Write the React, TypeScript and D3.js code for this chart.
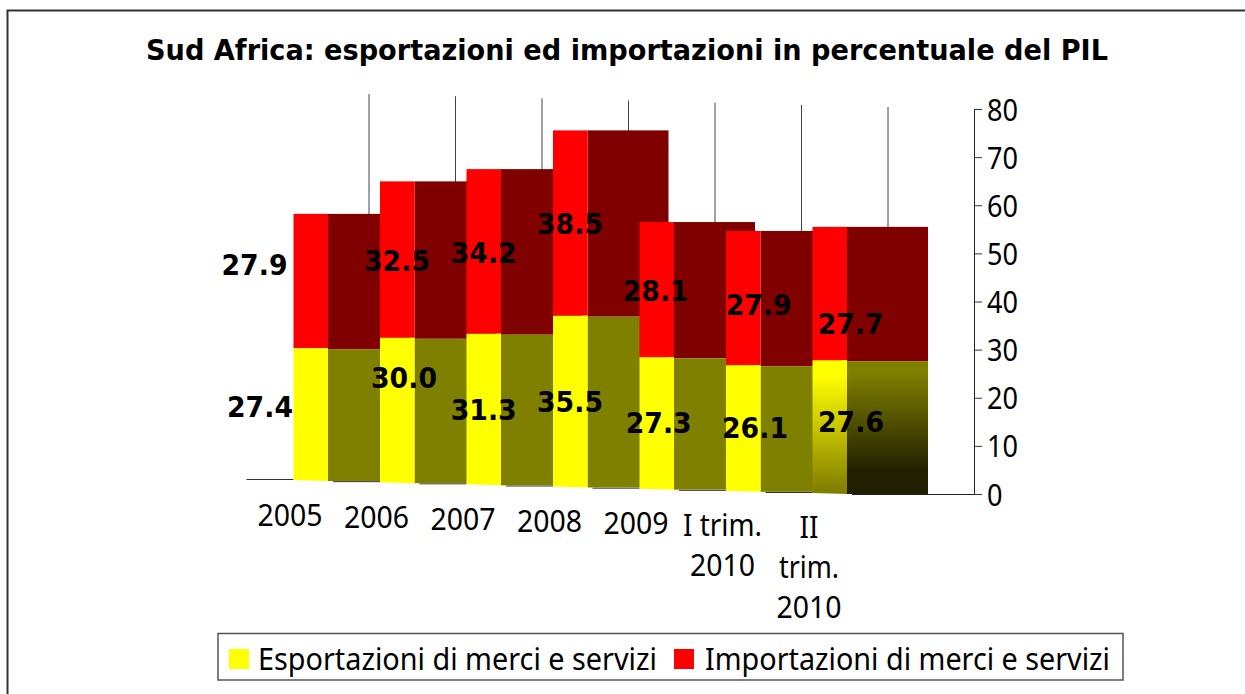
import React from "react";
import * as d3 from "d3";

const title = "Sud Africa: esportazioni ed importazioni in percentuale del PIL";
const categories = ["2005", "2006", "2007", "2008", "2009", "I trim.|2010", "II|trim.|2010"];
const esportazioni = [27.4, 30.0, 31.3, 35.5, 27.3, 26.1, 27.6];
const importazioni = [27.9, 32.5, 34.2, 38.5, 28.1, 27.9, 27.7];
const seriesNames = ["Esportazioni di merci e servizi", "Importazioni di merci e servizi"];
const axisTicks = [0, 10, 20, 30, 40, 50, 60, 70, 80];

// Hand-placed label anchors as in the reference (centre x, baseline y)
const expLabelPos = [[260, 417], [404, 388], [483.7, 420], [570, 412], [658.7, 433], [755, 438], [851, 432]];
const impLabelPos = [[254.5, 275], [397, 271], [483.7, 263], [570, 234], [655.7, 301], [758.7, 315], [850.7, 334]];

const W = 1245, H = 694;
const FRONT = 34.5, SIDE = 81;
const SANS = "'Noto Sans', sans-serif";
const BOLD = "'DejaVu Sans', sans-serif";

const x = d3.scaleBand<string>().domain(categories).range([293.5, 293.5 + 7 * 86.5]);
const base = d3.scaleLinear().domain([0, 6]).range([480, 493]);
const axisY = d3.scaleLinear().domain([0, 80]).range([494, 109]);
const h = (v: number) => axisY(0) - axisY(v);
const lineWidth = (s: string) => (s === "I trim." ? 79 : s === "trim." ? 60 : s === "II" ? 19 : 65);

export default function App() {
  return (
    <svg width={W} height={H} style={{ position: "absolute", left: 0, top: 0, display: "block", background: "#fff" }}>
      <defs>
        <linearGradient id="frontFade" gradientUnits="userSpaceOnUse" x1="0" x2="0" y1="375" y2="493">
          <stop offset="0" stopColor="#ffff00" />
          <stop offset="1" stopColor="#7f7c00" />
        </linearGradient>
        <linearGradient id="sideFade" gradientUnits="userSpaceOnUse" x1="0" x2="0" y1="372" y2="472">
          <stop offset="0" stopColor="#808000" />
          <stop offset="1" stopColor="#201f00" />
        </linearGradient>
      </defs>

      <path d={`M7.5 694V10.5H1245`} fill="none" stroke="#333" strokeWidth={2} />

      <text x={146} y={60} fontFamily={BOLD} fontWeight="bold" fontSize={28.5} textLength={962} lengthAdjust="spacingAndGlyphs">{title}</text>

      {categories.map((c, i) => {
        const left = x(c)!;
        const b = base(i);
        const top = b - h(esportazioni[i] + importazioni[i]);
        return (
          <g key={"g" + c}>
            <line x1={left + 75.5} x2={left + 75.5} y1={b - 386} y2={top + 1} stroke="#444" strokeWidth={1} />
            <line x1={left - 47} x2={left} y1={b - 0.5} y2={b - 0.5} stroke="#333" strokeWidth={1} />
          </g>
        );
      })}
      <line x1={852} x2={974} y1={494.5} y2={494.5} stroke="#222" strokeWidth={1} />

      {categories.map((c, i) => {
        const left = x(c)!;
        const b = base(i);
        const e = h(esportazioni[i]);
        const t = h(esportazioni[i] + importazioni[i]);
        const last = i === categories.length - 1;
        return (
          <g key={c}>
            <rect x={left + FRONT} y={b - t} width={SIDE} height={t - e + 1} fill="#800000" />
            <rect x={left + FRONT} y={b - e + 1} width={SIDE} height={e} fill={last ? "url(#sideFade)" : "#808000"} />
            <rect x={left} y={b - t} width={FRONT} height={t - e} fill="#ff0000" />
            <path d={`M${left} ${b - e}H${left + FRONT}V${b + 1}L${left} ${b}Z`} fill={last ? "url(#frontFade)" : "#ffff00"} />
          </g>
        );
      })}

      {esportazioni.map((v, i) => (
        <text key={"e" + i} x={expLabelPos[i][0]} y={expLabelPos[i][1]} textAnchor="middle" fontFamily={BOLD} fontWeight="bold" fontSize={29} textLength={66} lengthAdjust="spacingAndGlyphs">{v.toFixed(1)}</text>
      ))}
      {importazioni.map((v, i) => (
        <text key={"i" + i} x={impLabelPos[i][0]} y={impLabelPos[i][1]} textAnchor="middle" fontFamily={BOLD} fontWeight="bold" fontSize={29} textLength={66} lengthAdjust="spacingAndGlyphs">{v.toFixed(1)}</text>
      ))}

      <line x1={974.5} x2={974.5} y1={axisY(80)} y2={axisY(0)} stroke="#222" strokeWidth={1} />
      {axisTicks.map((t) => (
        <g key={t}>
          <line x1={974} x2={982} y1={axisY(t) + 0.5} y2={axisY(t) + 0.5} stroke="#333" strokeWidth={1} />
          <text x={987} y={axisY(t) + 11.5} fontFamily={SANS} fontSize={30} textLength={t === 0 ? 15.5 : 31} lengthAdjust="spacingAndGlyphs">{t}</text>
        </g>
      ))}

      {categories.map((c, i) =>
        c.split("|").map((line, j) => (
          <text key={c + j} x={x(c)! - 3.5} y={526 + 2 * i + 40 * j} textAnchor="middle" fontFamily={SANS} fontSize={30} textLength={lineWidth(line)} lengthAdjust="spacingAndGlyphs">{line}</text>
        ))
      )}

      <rect x={218} y={633.5} width={905} height={46.5} fill="#fff" stroke="#555" strokeWidth={1.5} />
      <rect x={229} y={649} width={20} height={20} fill="#ffff00" />
      <text x={258} y={670} fontFamily={SANS} fontSize={30} textLength={399} lengthAdjust="spacingAndGlyphs">{seriesNames[0]}</text>
      <rect x={674} y={649} width={20} height={20} fill="#ff0000" />
      <text x={705} y={670} fontFamily={SANS} fontSize={30} textLength={405} lengthAdjust="spacingAndGlyphs">{seriesNames[1]}</text>
    </svg>
  );
}
